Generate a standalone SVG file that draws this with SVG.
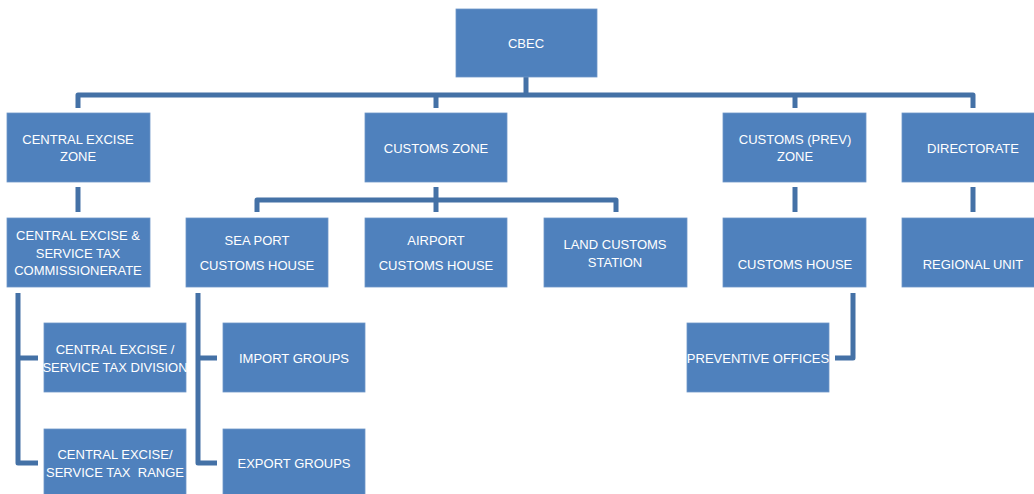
<svg xmlns="http://www.w3.org/2000/svg" width="1034" height="494" viewBox="0 0 1034 494">
<style>
.box{fill:#4F81BD;stroke:#6E97C8;stroke-width:0.8}
.t{font-family:"Liberation Sans",Arial,sans-serif;font-size:13px;fill:#FFFFFF;text-anchor:middle;white-space:pre}
.c{fill:none;stroke:#4471A6;stroke-width:5;stroke-linejoin:round}
</style>
<rect width="1034" height="494" fill="#FFFFFF"/>
<g id="connectors">
<path class="c" d="M526 77V95"/>
<path class="c" d="M78 108V95H973V108"/>
<path class="c" d="M436 95V108"/>
<path class="c" d="M795 95V108"/>
<path class="c" d="M78 187V212"/>
<path class="c" d="M436 187V212"/>
<path class="c" d="M257 212V200H616V212"/>
<path class="c" d="M795 187V212"/>
<path class="c" d="M973 187V212"/>
<path class="c" d="M38 358H18V293M18 358V463H38"/>
<path class="c" d="M217 358H198V293M198 358V463H217"/>
<path class="c" d="M853 293V358H835"/>
</g>
<g id="cbec"><rect class="box" x="456" y="9" width="141" height="68"/><text class="t" x="526" y="48">CBEC</text></g>
<g id="central-excise-zone"><rect class="box" x="7" y="113" width="143" height="69"/><text class="t" x="78" y="144">CENTRAL EXCISE</text><text class="t" x="78" y="161">ZONE</text></g>
<g id="customs-zone"><rect class="box" x="365" y="113" width="142" height="69"/><text class="t" x="436" y="153">CUSTOMS ZONE</text></g>
<g id="customs-prev-zone"><rect class="box" x="723" y="113" width="143" height="69"/><text class="t" x="795" y="144">CUSTOMS (PREV)</text><text class="t" x="795" y="161">ZONE</text></g>
<g id="directorate"><rect class="box" x="902" y="113" width="134" height="69"/><text class="t" x="973" y="153">DIRECTORATE</text></g>
<g id="ce-st-commissionerate"><rect class="box" x="7" y="218" width="143" height="69"/><text class="t" x="78" y="240">CENTRAL EXCISE &amp;</text><text class="t" x="78" y="258">SERVICE TAX</text><text class="t" x="78" y="275">COMMISSIONERATE</text></g>
<g id="sea-port"><rect class="box" x="186" y="218" width="142" height="69"/><text class="t" x="257" y="245">SEA PORT</text><text class="t" x="257" y="270">CUSTOMS HOUSE</text></g>
<g id="airport"><rect class="box" x="365" y="218" width="142" height="69"/><text class="t" x="436" y="245">AIRPORT</text><text class="t" x="436" y="270">CUSTOMS HOUSE</text></g>
<g id="land-customs"><rect class="box" x="544" y="218" width="143" height="69"/><text class="t" x="615" y="249">LAND CUSTOMS</text><text class="t" x="615" y="267">STATION</text></g>
<g id="customs-house"><rect class="box" x="723" y="218" width="143" height="69"/><text class="t" x="795" y="269">CUSTOMS HOUSE</text></g>
<g id="regional-unit"><rect class="box" x="902" y="218" width="134" height="69"/><text class="t" x="973" y="269">REGIONAL UNIT</text></g>
<g id="ce-division"><rect class="box" x="44" y="323" width="142" height="69"/><text class="t" x="115" y="354">CENTRAL EXCISE /</text><text class="t" x="115" y="372">SERVICE TAX DIVISION</text></g>
<g id="ce-range"><rect class="box" x="44" y="429" width="142" height="69"/><text class="t" x="115" y="459">CENTRAL EXCISE/</text><text class="t" x="115" y="477">SERVICE TAX  RANGE</text></g>
<g id="import-groups"><rect class="box" x="223" y="323" width="142" height="69"/><text class="t" x="294" y="363">IMPORT GROUPS</text></g>
<g id="export-groups"><rect class="box" x="223" y="429" width="142" height="69"/><text class="t" x="294" y="468">EXPORT GROUPS</text></g>
<g id="preventive-offices"><rect class="box" x="687" y="323" width="142" height="69"/><text class="t" x="758" y="363">PREVENTIVE OFFICES</text></g>
</svg>
